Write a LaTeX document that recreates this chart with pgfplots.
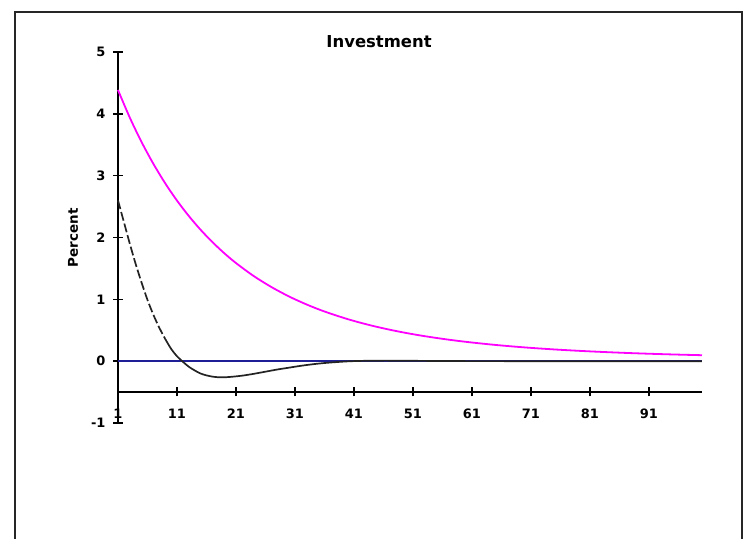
\documentclass[border=0pt]{standalone}
\usepackage{pgfplots}
\pgfplotsset{compat=1.18}
\usepackage{fontspec}
\setmainfont{DejaVu Sans}

\definecolor{invmag}{RGB}{255,0,255}
\definecolor{zeroblue}{RGB}{30,30,150}
\definecolor{dashgray}{RGB}{35,35,35}

\begin{document}
\begin{tikzpicture}
\useasboundingbox (0,0) rectangle (743bp,539bp);
% outer chart frame (open at the bottom)
\draw[line width=1.6bp, black!85] (15bp,0bp) -- (15bp,527bp) -- (742bp,527bp) -- (742bp,0bp);

% main axis: y axis, curves, titles
\begin{axis}[
  at={(118bp,116bp)}, anchor=south west,
  scale only axis, width=584bp, height=371bp,
  xmin=1, xmax=100, ymin=-1, ymax=5,
  axis x line=none, axis y line=left,
  axis line style={-, line width=1.6bp},
  ytick={-1,0,...,5},
  ytick align=center, major tick length=10bp,
  tick style={line width=1.6bp, black},
  /pgf/number format/assume math mode=true,
  yticklabel style={font=\bfseries\fontsize{13}{13}\selectfont, anchor=east, xshift=-4bp},
  title={Investment},
  title style={at={(0.447,1.013)}, anchor=center, font=\bfseries\fontsize{16.5}{17}\selectfont},
  xlabel={Quarters},
  xlabel style={at={(0.498,-0.081)}, anchor=center, font=\bfseries\fontsize{14}{14}\selectfont},
  ylabel={Percent},
  ylabel style={at={(-0.077,0.499)}, anchor=center, rotate=0, font=\bfseries\fontsize{13.5}{14}\selectfont},
  clip=false,
]
% zero line
\addplot[zeroblue, line width=1.5bp] coordinates {(1,0) (100,0)};
% response with larger persistence
\addplot[invmag, line width=1.8bp, smooth] coordinates {
(1,4.385) (3,3.939) (5,3.543) (7,3.191) (9,2.877) (11,2.597) (13,2.348)
(15,2.125) (17,1.926) (19,1.747) (21,1.587) (24,1.377) (27,1.199) (30,1.046)
(33,0.9155) (36,0.8034) (40,0.678) (44,0.575) (48,0.490) (52,0.4196)
(56,0.3613) (60,0.3124) (65,0.2623) (70,0.2220) (75,0.1894) (80,0.1630)
(85,0.1413) (90,0.1234) (95,0.1086) (100,0.0963)
};
% damped response: steep early part
\addplot[dashgray, line width=1.7bp, smooth, dash pattern=on 9bp off 3bp] coordinates {
(1,2.6) (2,2.25) (3,1.9) (4,1.57) (5,1.27) (6,0.99) (7,0.75) (8,0.54) (9,0.36)
};
% damped response: remainder
\addplot[dashgray, line width=1.7bp, smooth] coordinates {
(9,0.36) (10,0.2) (11,0.08) (12,-0.01) (13,-0.09) (14,-0.15) (15,-0.2)
(16,-0.23) (17,-0.25) (18,-0.26) (19,-0.26) (20,-0.255) (22,-0.235)
(24,-0.205) (26,-0.17) (28,-0.135) (30,-0.105) (32,-0.075) (34,-0.05)
(36,-0.03) (38,-0.015) (40,-0.003) (42,0.004) (45,0.008) (48,0.008)
(52,0.005) (56,0.003) (60,0.001) (70,0) (80,0) (90,0) (100,0)
};
\end{axis}

% category axis crossing at -0.5
\begin{axis}[
  at={(118bp,147bp)}, anchor=south west,
  scale only axis, width=584bp, height=340bp,
  xmin=1, xmax=100, ymin=-0.5, ymax=5,
  axis x line=bottom, axis y line=none,
  axis line style={-, line width=1.6bp},
  xtick={1,11,...,91},
  xtick align=center, major tick length=9bp,
  tick style={line width=1.6bp, black},
  /pgf/number format/assume math mode=true,
  xticklabel style={font=\bfseries\fontsize{13}{13}\selectfont, anchor=north, yshift=-9bp},
]
\addplot[draw=none] coordinates {(1,0) (100,0)};
\end{axis}
\end{tikzpicture}
\end{document}
